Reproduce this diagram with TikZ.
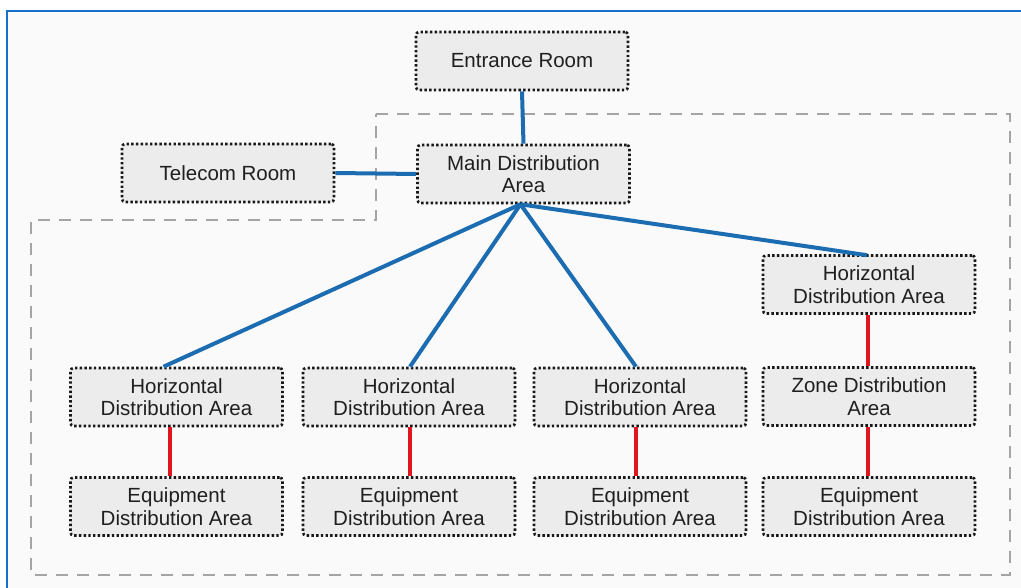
\documentclass[tikz,border=0pt]{standalone}
\usepackage{fontspec}
\setmainfont{Liberation Sans}
\definecolor{boxfill}{RGB}{236,236,236}
\definecolor{bgcol}{RGB}{250,250,250}
\definecolor{framecol}{RGB}{24,112,200}
\definecolor{linkblue}{RGB}{28,108,178}
\definecolor{linkred}{RGB}{222,22,30}
\definecolor{zonegray}{RGB}{165,165,165}
\begin{document}
\begin{tikzpicture}[x=1pt,y=-1pt,
  area/.style={draw=black!90, fill=boxfill, line width=2.6pt,
    dash pattern=on 2.4pt off 2.3pt, rounded corners=3pt,
    minimum width=212pt, minimum height=58pt, inner sep=0pt,
    align=center, font=\fontsize{20.5}{22.5}\selectfont, text=black!88},
  bluelink/.style={draw=linkblue, line width=4pt},
  redlink/.style={draw=linkred, line width=4pt},
  zone/.style={draw=zonegray, line width=2.5pt, dash pattern=on 12pt off 9pt},
  outerframe/.style={draw=framecol, line width=2.2pt}]
\useasboundingbox (0,0) rectangle (1021,588);
\clip (0,0) rectangle (1021,588);
\fill[white] (0,0) rectangle (1021,588);
\fill[bgcol] (7,11) rectangle (1030,600);
\draw[outerframe] (7,600) -- (7,11) -- (1030,11);
% zone outline
\draw[zone] (376,114) -- (1010,114) -- (1010,575) -- (31,575) -- (31,220) -- (376,220) -- cycle;
% nodes
\node[area] (ent) at (522,61) {Entrance Room};
\node[area] (mda) at (523.5,174) {Main Distribution\\Area};
\node[area] (tel) at (228,173) {Telecom Room};
\node[area] (h1) at (176.5,397) {Horizontal\\Distribution Area};
\node[area] (h2) at (409,397) {Horizontal\\Distribution Area};
\node[area] (h3) at (640,397) {Horizontal\\Distribution Area};
\node[area] (h4) at (869,284.5) {Horizontal\\Distribution Area};
\node[area] (zda) at (869,396.5) {Zone Distribution\\Area};
\node[area] (e1) at (176.5,506.5) {Equipment\\Distribution Area};
\node[area] (e2) at (409,506.5) {Equipment\\Distribution Area};
\node[area] (e3) at (640,506.5) {Equipment\\Distribution Area};
\node[area] (e4) at (869,506.5) {Equipment\\Distribution Area};
% blue links
\draw[bluelink] (ent.south) -- (mda.north);
\draw[bluelink] (tel.east) -- (mda.west);
\draw[bluelink] ([xshift=-3pt]mda.south) -- ([xshift=-13pt]h1.north);
\draw[bluelink] ([xshift=-3pt]mda.south) -- ([xshift=1pt]h2.north);
\draw[bluelink] ([xshift=-3pt]mda.south) -- ([xshift=-4pt]h3.north);
\draw[bluelink] ([xshift=-3pt]mda.south) -- ([xshift=-2pt,yshift=-1pt]h4.north);
% red links
\draw[redlink] ([xshift=-6.5pt]h1.south) -- ([xshift=-6.5pt]e1.north);
\draw[redlink] ([xshift=1pt]h2.south) -- ([xshift=1pt]e2.north);
\draw[redlink] ([xshift=-4pt]h3.south) -- ([xshift=-4pt]e3.north);
\draw[redlink] ([xshift=-1pt]h4.south) -- ([xshift=-1pt]zda.north);
\draw[redlink] ([xshift=-1pt]zda.south) -- ([xshift=-1pt]e4.north);
\end{tikzpicture}
\end{document}
